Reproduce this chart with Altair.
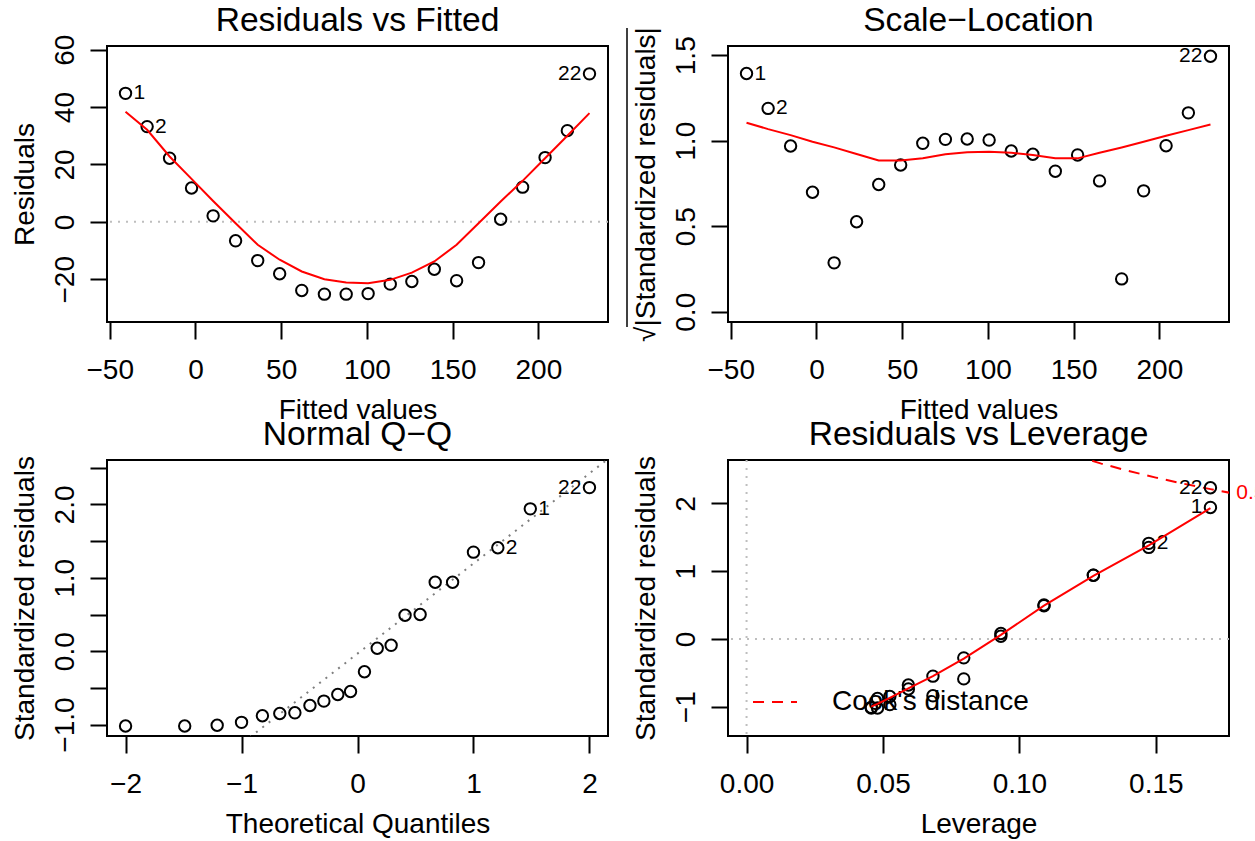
import altair as alt
import pandas as pd

FONT = "Liberation Sans"

# ---------------- data ----------------
obs = [str(i) for i in range(1, 23)]
fitted = [-40.8, -28.2, -15.1, -2.3, 10.3, 23.4, 36.3, 49.1, 62.0, 75.2, 87.9,
          100.7, 113.6, 126.2, 139.3, 152.3, 165.1, 178.0, 190.8, 203.9, 216.9, 229.8]
residuals = [44.8, 33.2, 22.2, 11.8, 2.1, -6.6, -13.5, -18.1, -23.9, -25.2, -25.2,
             -25.0, -21.7, -20.8, -16.5, -20.5, -14.2, 0.9, 12.1, 22.4, 31.8, 51.6]
smooth_resid = [38.4, 32.1, 22.8, 15.0, 7.3, -0.5, -8.0, -13.2, -17.3, -20.0, -21.1,
                -21.4, -20.2, -17.7, -13.8, -8.0, -0.5, 7.1, 14.3, 22.2, 30.0, 37.9]
sqrt_std_resid = [1.393, 1.189, 0.969, 0.699, 0.286, 0.526, 0.744, 0.858, 0.985, 1.008, 1.010,
                  1.004, 0.940, 0.921, 0.822, 0.917, 0.765, 0.192, 0.707, 0.971, 1.163, 1.494]
smooth_scale = [1.105, 1.068, 1.033, 0.994, 0.961, 0.922, 0.884, 0.884, 0.897, 0.921, 0.932,
                0.936, 0.930, 0.917, 0.897, 0.897, 0.930, 0.961, 0.994, 1.029, 1.062, 1.095]
std_resid = [1.94, 1.41, 0.94, 0.49, 0.08, -0.28, -0.55, -0.74, -0.97, -1.02, -1.02,
             -1.01, -0.88, -0.85, -0.68, -0.84, -0.59, 0.04, 0.50, 0.94, 1.35, 2.23]
theo_q = [-2.00, -1.49, -1.21, -1.00, -0.82, -0.67, -0.54, -0.41, -0.29, -0.17, -0.06,
          0.06, 0.17, 0.29, 0.41, 0.54, 0.67, 0.82, 1.00, 1.21, 1.49, 2.00]
qq_sorted = [-1.02, -1.02, -1.01, -0.97, -0.88, -0.85, -0.84, -0.74, -0.68, -0.59, -0.55,
             -0.28, 0.04, 0.08, 0.49, 0.50, 0.94, 0.94, 1.35, 1.41, 1.94, 2.23]
qq_ids = ["10", "11", "12", "9", "13", "14", "16", "8", "15", "17", "7",
          "6", "18", "5", "4", "19", "3", "20", "21", "2", "1", "22"]
qq_intercept = -0.033
qq_slope = 1.228
leverage = [0.1700, 0.1474, 0.1271, 0.1090, 0.0932, 0.0796, 0.0683, 0.0593, 0.0525, 0.0480, 0.0457,
            0.0457, 0.0480, 0.0525, 0.0593, 0.0683, 0.0796, 0.0932, 0.1090, 0.1271, 0.1474, 0.1700]
lev_smooth_x = [0.0457, 0.0480, 0.0525, 0.0593, 0.0683, 0.0796, 0.0932, 0.1090, 0.1271, 0.1474, 0.1700]
lev_smooth_y = [-1.00, -0.96, -0.87, -0.73, -0.55, -0.29, 0.06, 0.49, 0.93, 1.38, 1.93]
cook_h = [0.120, 0.130, 0.140, 0.150, 0.160, 0.170, 0.180]
cook_r = [2.708, 2.587, 2.478, 2.380, 2.291, 2.210, 2.134]
cook_label = "0.5"
flagged = ["1", "2", "22"]

W, H = 501, 276
RED = "#FF0000"


def xaxis(values, fmt, title):
    return alt.Axis(values=values, format=fmt, title=title, domain=False, grid=False,
                    ticks=True, tickSize=17, tickWidth=2, tickColor="black",
                    labelFont=FONT, labelFontSize=28, labelColor="black", labelAngle=0,
                    labelBaseline="alphabetic", labelAlign="center", labelPadding=39,
                    labelFlush=False, labelOverlap=False,
                    titleFont=FONT, titleFontSize=28, titleFontWeight="normal", titleColor="black",
                    titleX=W / 2, titleY=96, titleAlign="center", titleBaseline="alphabetic")


def yaxis(values, fmt, title, label_expr=None):
    kw = dict(values=values, format=fmt, title=title, domain=False, grid=False,
              ticks=True, tickSize=17, tickWidth=2, tickColor="black",
              labelFont=FONT, labelFontSize=28, labelColor="black", labelAngle=270,
              labelBaseline="alphabetic", labelAlign="center", labelPadding=17,
              labelFlush=False, labelOverlap=False,
              titleFont=FONT, titleFontSize=28, titleFontWeight="normal", titleColor="black",
              titleAngle=270, titleX=-74, titleY=H / 2, titleAlign="center", titleBaseline="alphabetic")
    if label_expr:
        kw["labelExpr"] = label_expr
    return alt.Axis(**kw)


def panel(df, xdom, ydom, xax, yax, line_df, ttl, extra=()):
    X = lambda f: alt.X(f + ":Q", scale=alt.Scale(domain=xdom, nice=False, zero=False), axis=xax)
    Y = lambda f: alt.Y(f + ":Q", scale=alt.Scale(domain=ydom, nice=False, zero=False), axis=yax)
    pts = alt.Chart(df).mark_point(shape="circle", filled=False, size=130, strokeWidth=2,
                                   color="black", opacity=1).encode(x=X("x"), y=Y("y"))
    left = alt.Chart(df).transform_filter("datum.lab != '' && datum.side == 'r'").mark_text(
        font=FONT, fontSize=21, align="left", baseline="middle", dx=8, color="black"
    ).encode(x=X("x"), y=Y("y"), text="lab:N")
    right = alt.Chart(df).transform_filter("datum.lab != '' && datum.side == 'l'").mark_text(
        font=FONT, fontSize=21, align="right", baseline="middle", dx=-8, color="black"
    ).encode(x=X("x"), y=Y("y"), text="lab:N")
    head = alt.Chart(pd.DataFrame({"t": [ttl]})).mark_text(
        font=FONT, fontSize=33.6, color="black", align="center", baseline="alphabetic"
    ).encode(x=alt.value(W / 2), y=alt.value(-15), text="t:N")
    layers = [l(X, Y) for l in extra]
    layers += [pts, left, right]
    if line_df is not None:
        layers.append(alt.Chart(line_df).mark_line(color=RED, strokeWidth=2, clip=True)
                      .encode(x=X("x"), y=Y("y"), order="o:Q"))
    layers.append(head)
    return alt.layer(*layers).properties(width=W, height=H)


def labelled(xs, ids):
    # label side as in R: right of the point when left of the middle of the labelled points
    shown = [v for v, i in zip(xs, ids) if i in flagged]
    mid = (min(shown) + max(shown)) / 2
    return ([i if i in flagged else "" for i in ids],
            ["r" if v < mid else "l" for v in xs])


# ---- Panel 1: Residuals vs Fitted
lab1, side1 = labelled(fitted, obs)
df1 = pd.DataFrame({"x": fitted, "y": residuals, "lab": lab1, "side": side1})
ln1 = pd.DataFrame({"x": fitted, "y": smooth_resid, "o": list(range(22))})
zero1 = lambda X, Y: alt.Chart(pd.DataFrame({"x": [fitted[0]], "y": [0.0]})).mark_rule(
    color="#BEBEBE", strokeWidth=2, strokeDash=[2, 6]).encode(y=Y("y"))
p1 = panel(df1, [-51.6, 240.6], [-34.9, 61.3],
           xaxis([-50, 0, 50, 100, 150, 200], "d", "Fitted values"),
           yaxis([-20, 0, 20, 40, 60], "d", "Residuals"), ln1, "Residuals vs Fitted", extra=[zero1])

# ---- Panel 2: Scale-Location
lab2, side2 = labelled(fitted, obs)
df2 = pd.DataFrame({"x": fitted, "y": sqrt_std_resid, "lab": lab2, "side": side2})
ln2 = pd.DataFrame({"x": fitted, "y": smooth_scale, "o": list(range(22))})
overbar = lambda X, Y: alt.Chart(pd.DataFrame({"d": [0]})).mark_rule(
    color="black", strokeWidth=1.5).encode(x=alt.value(-101), y=alt.value(-18), y2=alt.value(281))
p2 = panel(df2, [-51.6, 240.6], [-0.06, 1.554],
           xaxis([-50, 0, 50, 100, 150, 200], "d", "Fitted values"),
           yaxis([0, 0.5, 1.0, 1.5], ".1f", "\u221a|Standardized residuals|"), ln2,
           "Scale\u2212Location", extra=[overbar])

# ---- Panel 3: Normal Q-Q
lab3, side3 = labelled(theo_q, qq_ids)
df3 = pd.DataFrame({"x": theo_q, "y": qq_sorted, "lab": lab3, "side": side3})
qq_x = [-2.4, 2.4]
qqline = lambda X, Y: alt.Chart(pd.DataFrame({"x": qq_x, "y": [qq_intercept + qq_slope * v for v in qq_x]})
                                ).mark_line(color="#7F7F7F", strokeWidth=2, strokeDash=[2, 6], clip=True
                                            ).encode(x=X("x"), y=Y("y"))
p3 = panel(df3, [-2.16, 2.16], [-1.156, 2.606],
           xaxis([-2, -1, 0, 1, 2], "d", "Theoretical Quantiles"),
           yaxis([-1, -0.5, 0, 0.5, 1, 1.5, 2, 2.5], ".1f", "Standardized residuals",
                 "datum.value % 1 == 0 ? format(datum.value, '.1f') : ''"),
           None, "Normal Q\u2212Q", extra=[qqline])

# ---- Panel 4: Residuals vs Leverage
lab4, side4 = labelled(leverage, obs)
df4 = pd.DataFrame({"x": leverage, "y": std_resid, "lab": lab4, "side": side4})
ln4 = pd.DataFrame({"x": lev_smooth_x, "y": lev_smooth_y, "o": list(range(len(lev_smooth_x)))})
one = pd.DataFrame({"x": [0.0], "y": [0.0]})
vz = lambda X, Y: alt.Chart(one).mark_rule(color="#BEBEBE", strokeWidth=2, strokeDash=[2, 6]).encode(x=X("x"))
hz = lambda X, Y: alt.Chart(one).mark_rule(color="#BEBEBE", strokeWidth=2, strokeDash=[2, 6]).encode(y=Y("y"))
cook = lambda X, Y: alt.Chart(pd.DataFrame({"x": cook_h, "y": cook_r})).mark_line(
    color=RED, strokeWidth=2, strokeDash=[11, 8], clip=True).encode(x=X("x"), y=Y("y"))
cooklab = lambda X, Y: alt.Chart(pd.DataFrame({"x": [0.1795], "y": [2.15], "t": [cook_label]})).mark_text(
    font=FONT, fontSize=21, color=RED, align="left", baseline="middle").encode(x=X("x"), y=Y("y"), text="t:N")
leg_line = lambda X, Y: alt.Chart(pd.DataFrame({"d": [0]})).mark_rule(
    color=RED, strokeWidth=2, strokeDash=[11, 8]).encode(x=alt.value(25), x2=alt.value(69), y=alt.value(242))
leg_text = lambda X, Y: alt.Chart(pd.DataFrame({"t": ["Cook's distance"]})).mark_text(
    font=FONT, fontSize=28, color="black", align="left", baseline="middle").encode(
    x=alt.value(104), y=alt.value(242), text="t:N")
p4 = panel(df4, [-0.0068, 0.1768], [-1.433, 2.640],
           xaxis([0, 0.05, 0.10, 0.15], ".2f", "Leverage"),
           yaxis([-1, 0, 1, 2], "d", "Standardized residuals"), ln4, "Residuals vs Leverage",
           extra=[vz, hz, cook, cooklab, leg_line, leg_text])

row1 = alt.hconcat(p1, p2, spacing=120, bounds="flush")
row2 = alt.hconcat(p3, p4, spacing=120, bounds="flush")
chart = alt.vconcat(row1, row2, spacing=414, bounds="flush").properties(
    autosize=alt.AutoSizeParams(type="none"),
    padding={"left": 107, "top": 46, "right": 1148, "bottom": 795},
    background="white",
).configure_view(stroke="black", strokeWidth=2)

chart.save("out.html", embed_options={"renderer": "svg", "actions": False})
